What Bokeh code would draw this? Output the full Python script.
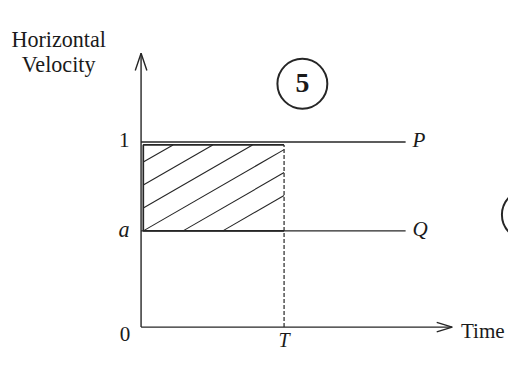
import numpy as np
from bokeh.plotting import figure
from bokeh.models import Range1d
from bokeh.core.properties import value
from bokeh.embed import file_html
from bokeh.resources import INLINE

# ---- data (schematic values) ----
time_T = 1.0
vel_P = 1.0
vel_Q = 0.52            # "a"
axis_time_max = 2.176
axis_vel_max = 1.48
line_time_end = 1.85
series_names = ["P", "Q"]
series_values = [vel_P, vel_Q]
y_tick_upright_values = [0.0, vel_P]
y_tick_upright_labels = ["0", "1"]
y_tick_italic_values = [vel_Q]
y_tick_italic_labels = ["a"]
x_tick_values = [time_T]
x_tick_labels = ["T"]
y_title_lines = ["Horizontal", "Velocity"]
x_title = "Time"
panel_label = ["5"]
panel_x = [1.128]
panel_y = [1.315]
next_panel_x = [2.698]
next_panel_y = [0.607]
hatch_offsets = [-3, -2, -1, 0, 1, 2]

# ---- layout ----
W, H = 508, 351
REF_W, REF_H = 524, 367
REF_OX, REF_OY = 145.0, 341.5          # origin in reference px
REF_SX, REF_SY = 147.5, 193.5          # reference px per data unit
KX = W / REF_W                          # squeeze the drawing into the canvas
KY = H / REF_H
KF = 0.96                               # font scale
BASE_SHIFT = 0.42                       # em correction for rendered baseline


def dx(px):
    return px * KX


def dy(px):
    return px * KY


def fs(px):
    return f"{px * KF:.1f}px"


def base(ref_px, font_px):
    """screen y offset so that the baseline lands ref_px (reference px) below."""
    return dy(ref_px) - BASE_SHIFT * font_px * KF


x_range = Range1d(-REF_OX / REF_SX, (REF_W - REF_OX) / REF_SX)
y_range = Range1d((REF_OY - H / KY) / REF_SY, REF_OY / REF_SY)

p = figure(width=W, height=H, x_range=x_range, y_range=y_range,
           output_backend="svg", toolbar_location=None,
           x_axis_location=None, y_axis_location=None, min_border=0)
p.grid.visible = False
p.outline_line_color = None
p.background_fill_color = "white"
p.border_fill_color = "white"

INK = "#262626"
TXT = "#1a1a1a"
FONT = value("Liberation Serif")

# axes
p.segment(x0=[0, 0], y0=[0, 0], x1=[0, axis_time_max], y1=[axis_vel_max, 0],
          line_color=INK, line_width=1.4)
# arrow heads (open)
p.multi_line(
    xs=[[-6 / REF_SX, 0, 6 / REF_SX],
        [axis_time_max - 16 / REF_SX, axis_time_max, axis_time_max - 16 / REF_SX]],
    ys=[[axis_vel_max - 18 / REF_SY, axis_vel_max, axis_vel_max - 18 / REF_SY],
        [5 / REF_SY, 0, -5 / REF_SY]],
    line_color=INK, line_width=1.4)

# P and Q lines
p.segment(x0=[0, 0], y0=series_values, x1=[line_time_end] * 2, y1=series_values,
          line_color=INK, line_width=1.4)

# shaded rectangle
rect_left = 2.3 / REF_SX
rect_top = vel_P - 3 / REF_SY
p.line(x=[time_T, rect_left, rect_left, time_T],
       y=[vel_Q, vel_Q, rect_top, rect_top], line_color=INK, line_width=1.7)
p.segment(x0=[time_T], y0=[0], x1=[time_T], y1=[rect_top],
          line_color=INK, line_width=1.2, line_dash="4 2")

# hatching
s = 0.585 * REF_SX / REF_SY
spacing = 41 / REF_SX
hx, hy = [], []
for k in hatch_offsets:
    c = rect_left + k * spacing
    t0 = max(c, rect_left)
    t1 = min(c + (rect_top - vel_Q) / s, time_T)
    if t1 > t0:
        hx.append([t0, t1])
        hy.append([vel_Q + s * (t0 - c), vel_Q + s * (t1 - c)])
p.multi_line(xs=hx, ys=hy, line_color=INK, line_width=1.1)

# tick labels
p.text(x=[0] * len(y_tick_upright_values), y=y_tick_upright_values,
       text=y_tick_upright_labels, x_offset=[dx(-11), dx(-12)],
       y_offset=[base(16.8, 22), base(7.5, 22)],
       text_align="right", text_baseline="alphabetic",
       text_font=FONT, text_font_size=fs(22), text_color=TXT)
p.text(x=[0], y=y_tick_italic_values, text=y_tick_italic_labels,
       x_offset=dx(-12), y_offset=base(8.5, 23), text_align="right",
       text_baseline="alphabetic", text_font=FONT, text_font_style="italic",
       text_font_size=fs(23), text_color=TXT)
p.text(x=x_tick_values, y=[0], text=x_tick_labels, x_offset=0, y_offset=13.0,
       text_align="center", text_baseline="alphabetic",
       text_font=FONT, text_font_style="italic", text_font_size="20px",
       text_color=TXT)

# series labels
p.text(x=[line_time_end] * 2, y=series_values, text=series_names,
       x_offset=dx(7), y_offset=base(7.5, 22), text_align="left",
       text_baseline="alphabetic", text_font=FONT, text_font_style="italic",
       text_font_size=fs(22), text_color=TXT)

# axis titles
p.text(x=[0, 0], y=[axis_vel_max] * 2, text=y_title_lines,
       x_offset=dx(-85), y_offset=[base(-5, 23), base(21.7, 23)],
       text_align="center", text_baseline="alphabetic", text_font=FONT,
       text_font_size=fs(23), text_color=TXT)
p.text(x=[axis_time_max], y=[0], text=[x_title], x_offset=dx(9),
       y_offset=base(13.5, 22), text_align="left", text_baseline="alphabetic",
       text_font=FONT, text_font_size=fs(22), text_color=TXT)

# panel number badges
p.scatter(x=panel_x, y=panel_y, size=52 * KF, marker="circle", fill_color=None,
          line_color=INK, line_width=2)
p.text(x=panel_x, y=panel_y, text=panel_label, y_offset=base(11, 29),
       text_align="center", text_baseline="alphabetic", text_font=FONT,
       text_font_style="bold", text_font_size=fs(29), text_color=TXT)
p.scatter(x=next_panel_x, y=next_panel_y, size=52 * KF, marker="circle",
          fill_color=None, line_color=INK, line_width=2)

open("out.html", "w").write(file_html(p, INLINE))
